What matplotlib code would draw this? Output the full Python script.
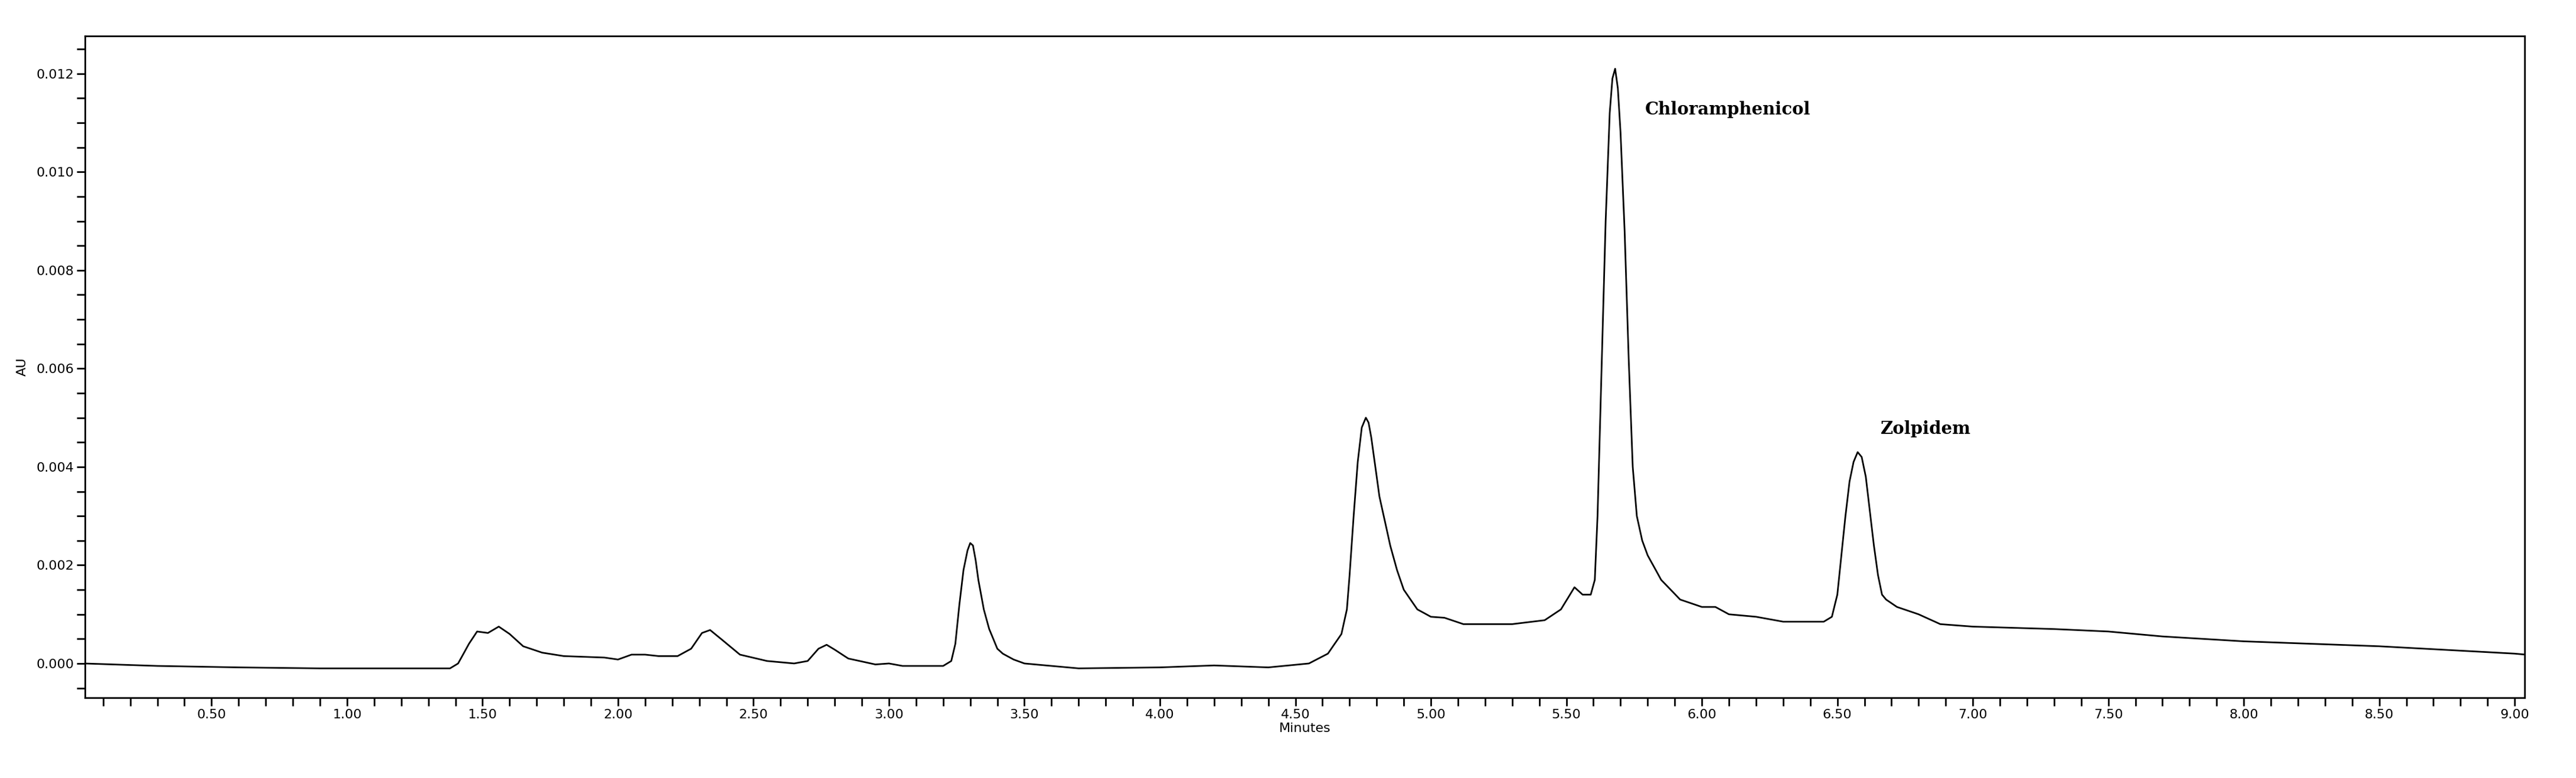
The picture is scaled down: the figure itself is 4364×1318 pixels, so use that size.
import matplotlib
matplotlib.use("Agg")
import matplotlib.pyplot as plt
from matplotlib.ticker import MultipleLocator, FormatStrFormatter

time_min = [0.03,0.3,0.6,0.9,1.38,1.41,1.45,1.48,1.52,1.56,1.6,1.65,1.72,1.8,1.95,2.0,2.05,2.1,2.15,2.22,2.27,2.31,2.34,2.38,2.45,2.55,2.65,2.70,2.74,2.77,2.80,2.85,2.95,3.0,3.05,3.2,3.23,3.245,3.26,3.275,3.29,3.30,3.31,3.32,3.33,3.35,3.37,3.40,3.42,3.46,3.5,3.7,4.0,4.2,4.4,4.55,4.62,4.67,4.69,4.70,4.715,4.73,4.745,4.76,4.77,4.78,4.795,4.81,4.83,4.85,4.875,4.90,4.95,5.0,5.05,5.12,5.3,5.42,5.48,5.53,5.56,5.59,5.605,5.615,5.63,5.645,5.66,5.67,5.68,5.69,5.70,5.715,5.73,5.745,5.76,5.78,5.8,5.85,5.92,6.0,6.05,6.1,6.2,6.3,6.45,6.48,6.50,6.515,6.53,6.545,6.56,6.575,6.59,6.605,6.62,6.635,6.65,6.665,6.68,6.72,6.8,6.88,7.0,7.3,7.5,7.7,8.0,8.5,9.0,9.04]
absorbance = [0.0,-0.00005,-0.00008,-0.0001,-0.0001,0.0,0.0004,0.00065,0.00062,0.00075,0.0006,0.00035,0.00022,0.00015,0.00012,0.00008,0.00018,0.00018,0.00015,0.00015,0.0003,0.00062,0.00068,0.0005,0.00018,0.00005,0.0,0.00005,0.0003,0.00038,0.00028,0.0001,-0.00002,0.0,-0.00005,-0.00005,0.00005,0.0004,0.0012,0.0019,0.0023,0.00245,0.0024,0.0021,0.0017,0.0011,0.0007,0.0003,0.0002,0.00008,0.0,-0.0001,-0.00008,-0.00004,-0.00008,0.0,0.0002,0.0006,0.0011,0.0018,0.0030,0.0041,0.0048,0.0050,0.0049,0.0046,0.0040,0.0034,0.0029,0.0024,0.0019,0.0015,0.0011,0.00095,0.00093,0.0008,0.0008,0.00088,0.0011,0.00155,0.0014,0.0014,0.0017,0.0030,0.0060,0.0090,0.0112,0.0119,0.0121,0.0117,0.0108,0.0088,0.0062,0.0040,0.0030,0.0025,0.0022,0.0017,0.0013,0.00115,0.00115,0.001,0.00095,0.00085,0.00085,0.00095,0.0014,0.0022,0.0030,0.0037,0.0041,0.0043,0.0042,0.0038,0.0031,0.0024,0.0018,0.0014,0.0013,0.00115,0.001,0.0008,0.00075,0.0007,0.00065,0.00055,0.00045,0.00035,0.0002,0.00018]
peak_labels = ["Chloramphenicol", "Zolpidem"]
peak_label_pos = [(5.79, 0.0111), (6.66, 0.0046)]

fig = plt.figure(figsize=(43.64, 13.18), dpi=100)
ax = fig.add_axes([0.033, 0.103, 0.947, 0.851])
ax.plot(time_min, absorbance, color="black", lw=2)
ax.set_xlim(0.033, 9.036)
ax.set_ylim(-0.0007, 0.01277)
ax.xaxis.set_major_locator(MultipleLocator(0.5))
ax.xaxis.set_minor_locator(MultipleLocator(0.1))
ax.yaxis.set_major_locator(MultipleLocator(0.002))
ax.yaxis.set_minor_locator(MultipleLocator(0.0005))
ax.xaxis.set_major_formatter(FormatStrFormatter("%.2f"))
ax.yaxis.set_major_formatter(FormatStrFormatter("%.3f"))
ax.tick_params(which="both", direction="out", width=2, labelsize=16)
ax.tick_params(which="major", length=10)
ax.tick_params(which="minor", length=10)
for s in ax.spines.values():
    s.set_linewidth(2)
ax.set_xlabel("Minutes", fontsize=16, labelpad=2)
ax.set_ylabel("AU", fontsize=16, labelpad=10)
for lab, (x, y) in zip(peak_labels, peak_label_pos):
    ax.text(x, y, lab, fontsize=21, fontweight="bold", family="DejaVu Serif", va="bottom")
fig.savefig("out.png", dpi=100)
